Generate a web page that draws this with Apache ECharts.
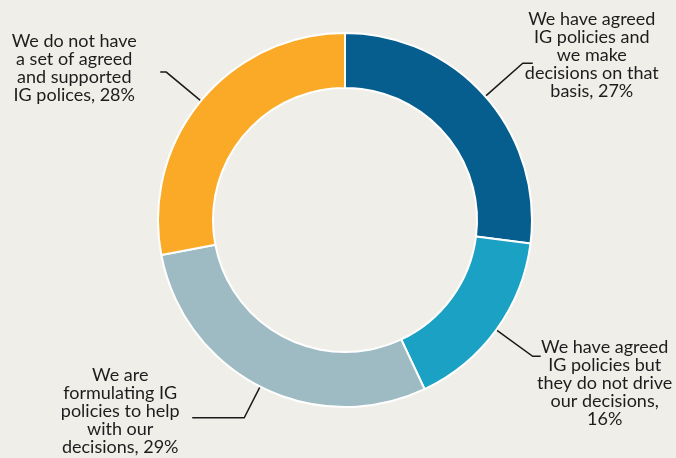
<!DOCTYPE html>
<html>
<head>
<meta charset="utf-8">
<script src="https://cdn.jsdelivr.net/npm/echarts@6/dist/echarts.min.js"></script>
<style>
  html, body { margin: 0; padding: 0; background: #efeee8; }
  #chart { width: 676px; height: 458px; }
</style>
</head>
<body>
<div id="chart"></div>
<script>
// data, clockwise from 12 o'clock
const categories = [
  "We have agreed IG policies and we make decisions on that basis",
  "We have agreed IG policies but they do not drive our decisions",
  "We are formulating IG policies to help with our decisions",
  "We do not have a set of agreed and supported IG polices"
];
const values = [27, 16, 29, 28];
// wrapped label text, #v is replaced by the value
const labelLines = [
  ["We have agreed", "IG policies and", "we make", "decisions on that", "basis, #v%"],
  ["We have agreed", "IG policies but", "they do not drive", "our decisions,", "#v%"],
  ["We are", "formulating IG", "policies to help", "with our", "decisions, #v%"],
  ["We do not have", "a set of agreed", "and supported", "IG polices, #v%"]
];

const colors = ["#065e8e", "#1ba1c3", "#9ebbc4", "#fbaa27"];
// leader line lengths and label box tweaks per slice
const tweaks = [
  { len: 50, len2: 10, w: 108, pad: [0, 0, 16, 0] },
  { len: 45, len2: 8, w: 118, pad: [54, 0, 0, 0] },
  { len: 35, len2: 52, w: 134, pad: [0, 0, 14, 0] },
  { len: 45, len2: 6, w: 128, pad: [0, 17, 8, 0] }
];

const font = { fontFamily: "Lato", fontSize: 18, lineHeight: 18, color: "#1d1d1d" };

const chart = echarts.init(document.getElementById("chart"));
chart.setOption({
  backgroundColor: "#efeee8",
  animation: false,
  series: [{
    type: "pie",
    center: [345, 220],
    radius: [132, 187],
    startAngle: 90,
    clockwise: true,
    avoidLabelOverlap: false,
    silent: true,
    itemStyle: { borderColor: "#ffffff", borderWidth: 2 },
    label: {
      show: true,
      position: "outside",
      alignTo: "none",
      edgeDistance: 0,
      bleedMargin: 0,
      distanceToLabelLine: 5,
      ...font
    },
    labelLine: {
      show: true,
      smooth: false,
      lineStyle: { color: "#1a1a1a", width: 1.5 }
    },
    data: values.map((v, i) => ({
      name: categories[i],
      value: v,
      itemStyle: { color: colors[i] },
      label: {
        formatter: labelLines[i].map(l => "{t|" + l.replace("#v", v) + "}").join("\n"),
        padding: tweaks[i].pad,
        rich: { t: { width: tweaks[i].w, align: "center", ...font } }
      },
      labelLine: { length: tweaks[i].len, length2: tweaks[i].len2 }
    }))
  }]
});
</script>
</body>
</html>
